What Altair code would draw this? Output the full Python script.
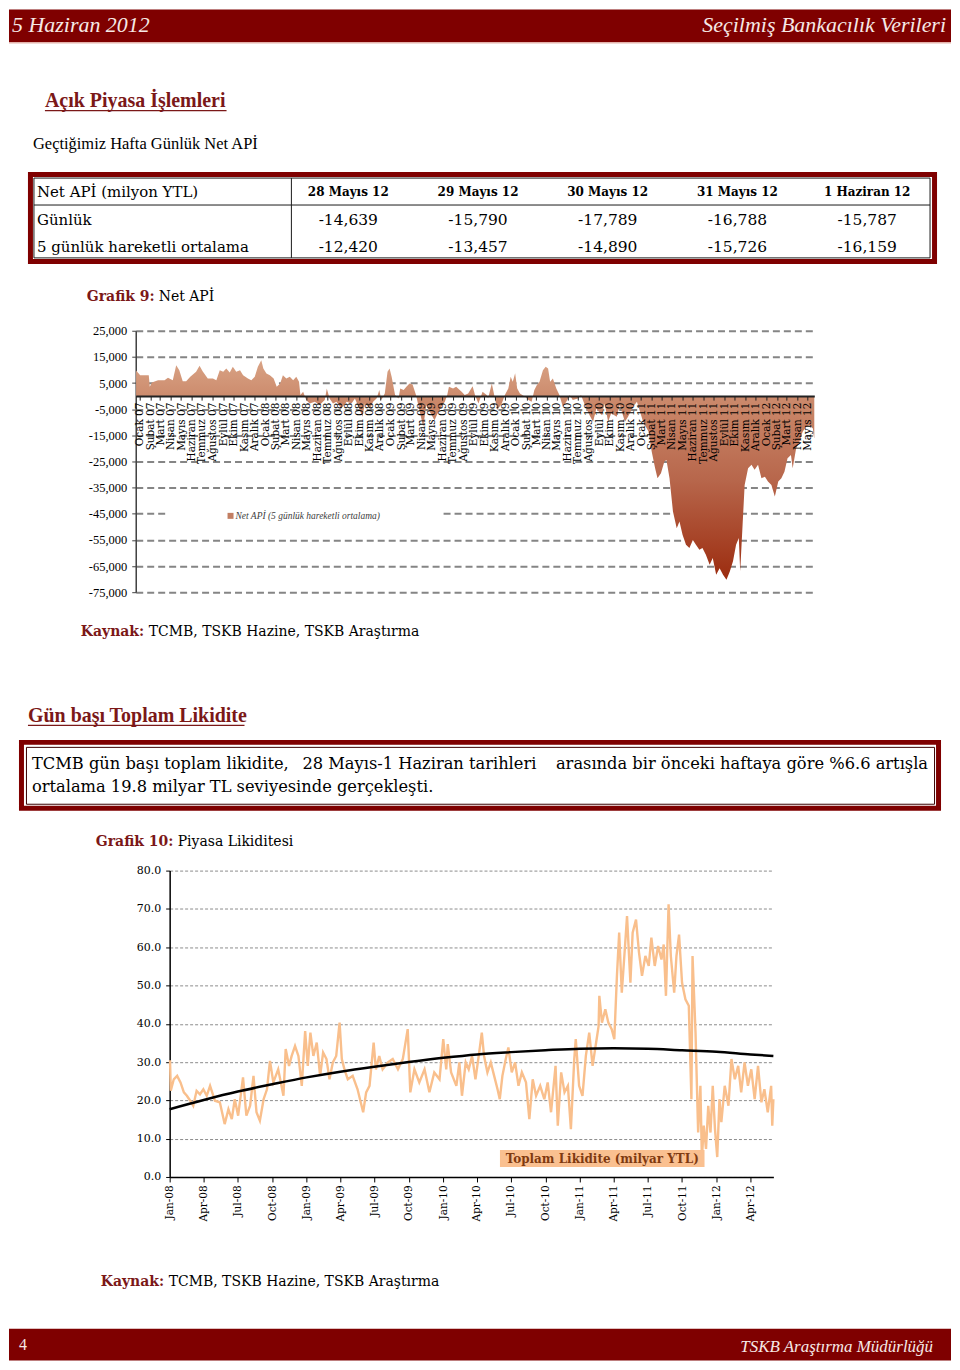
import altair as alt
import pandas as pd

# ---------------- data ----------------
months_tr = ["Ocak", "Şubat", "Mart", "Nisan", "Mayıs", "Haziran", "Temmuz",
             "Ağustos", "Eylül", "Ekim", "Kasım", "Aralık"]

table_cols = ["28 Mayıs 12", "29 Mayıs 12", "30 Mayıs 12", "31 Mayıs 12", "1 Haziran 12"]
table_rows = ["Günlük", "5 günlük hareketli ortalama"]
gunluk = [-14639, -15790, -17789, -16788, -15787]
ortalama = [-12420, -13457, -14890, -15726, -16159]

net_dates = [
    "2007-01-02", "2007-01-14", "2007-02-08", "2007-02-11", "2007-02-17", "2007-03-07", "2007-03-26",
    "2007-04-05", "2007-04-19", "2007-04-29", "2007-05-08", "2007-05-18", "2007-05-28", "2007-06-09",
    "2007-06-26", "2007-07-06", "2007-07-15", "2007-07-30", "2007-08-14", "2007-08-24", "2007-09-03",
    "2007-09-13", "2007-09-22", "2007-10-02", "2007-10-11", "2007-10-21", "2007-11-01", "2007-11-10",
    "2007-11-24", "2007-12-04", "2007-12-14", "2007-12-23", "2008-01-02", "2008-01-08", "2008-01-17",
    "2008-01-27", "2008-02-07", "2008-02-16", "2008-02-26", "2008-03-05", "2008-03-15", "2008-03-25",
    "2008-04-04", "2008-04-13", "2008-04-21", "2008-04-25", "2008-05-03", "2008-05-12", "2008-05-22",
    "2008-06-06", "2008-06-20", "2008-07-05", "2008-07-11", "2008-07-19", "2008-07-29", "2008-08-08",
    "2008-08-22", "2008-09-07", "2008-09-21", "2008-10-01", "2008-10-15", "2008-10-23", "2008-10-30",
    "2008-11-14", "2008-11-23", "2008-12-03", "2008-12-11", "2008-12-17", "2008-12-27", "2009-01-04",
    "2009-01-10", "2009-01-16", "2009-01-26", "2009-02-05", "2009-02-10", "2009-02-20", "2009-02-28",
    "2009-03-09", "2009-03-18", "2009-03-28", "2009-04-08", "2009-04-18", "2009-04-27", "2009-05-07",
    "2009-05-21", "2009-06-01", "2009-06-10", "2009-06-20", "2009-06-27", "2009-07-02", "2009-07-14",
    "2009-07-23", "2009-08-08", "2009-08-17", "2009-08-27", "2009-09-09", "2009-09-16", "2009-09-26",
    "2009-10-08", "2009-10-20", "2009-10-24", "2009-11-04", "2009-11-11", "2009-11-20", "2009-12-03",
    "2009-12-12", "2009-12-22", "2009-12-29", "2010-01-04", "2010-01-11", "2010-01-17", "2010-01-25",
    "2010-02-10", "2010-02-19", "2010-02-28", "2010-03-08", "2010-03-15", "2010-03-23", "2010-04-02",
    "2010-04-10", "2010-04-17", "2010-04-23", "2010-05-01", "2010-05-11", "2010-05-20", "2010-05-30",
    "2010-06-09", "2010-06-19", "2010-06-28", "2010-07-13", "2010-07-22", "2010-08-02", "2010-08-16",
    "2010-08-26", "2010-09-05", "2010-09-20", "2010-09-29", "2010-10-09", "2010-10-18", "2010-11-03",
    "2010-11-12", "2010-11-27", "2010-12-06", "2010-12-21", "2011-01-01", "2011-01-10", "2011-01-19",
    "2011-02-04", "2011-02-13", "2011-02-23", "2011-03-02", "2011-03-12", "2011-03-22", "2011-03-28",
    "2011-04-06", "2011-04-16", "2011-04-27", "2011-05-05", "2011-05-14", "2011-05-24", "2011-06-03",
    "2011-06-13", "2011-06-22", "2011-07-02", "2011-07-11", "2011-07-21", "2011-08-01", "2011-08-10",
    "2011-08-20", "2011-08-30", "2011-09-09", "2011-09-19", "2011-09-29", "2011-10-08", "2011-10-17",
    "2011-10-25", "2011-10-29", "2011-11-05", "2011-11-11", "2011-11-21", "2011-12-01", "2011-12-10",
    "2011-12-20", "2011-12-30", "2012-01-09", "2012-01-18", "2012-01-28", "2012-02-07", "2012-02-17",
    "2012-02-26", "2012-03-06", "2012-03-15", "2012-03-25", "2012-03-30", "2012-04-09", "2012-04-19",
    "2012-04-28", "2012-05-08", "2012-05-18", "2012-05-28", "2012-05-29", "2012-05-30", "2012-05-31",
    "2012-06-01"]
net_values = [
    9800, 8000, 8000, 3600, 5200, 6100, 6100,
    7000, 6100, 11800, 9900, 5700, 5700, 7400,
    9300, 11600, 9500, 6700, 6700, 6100, 9900,
    9300, 10600, 9000, 11200, 9300, 9900, 8000,
    6700, 6100, 7400, 11200, 13700, 10600, 8650,
    8000, 6700, 3600, 4800, 8000, 6700, 7400,
    6100, 7400, 5500, 400, 1650, -1500, -2800,
    -2200, -3400, -1500, 2900, -900, -2800, -2200,
    -4700, -2200, -2800, -900, -5300, -7900, -2800,
    -4700, -2200, -900, 2300, -1500, 1000, 9300,
    10600, 7400, 400, -900, 2900, 2300, 3600,
    4800, 4400, 400, -6000, -11700, -3400, -6000,
    -9200, -6000, -4100, -2200, 400, 3600, 2900,
    3600, 1700, 400, 1000, 3800, 400, -2800,
    1700, 400, -900, 4800, 400, -5300, -2800,
    400, 2900, 7400, 5500, 8700, 2900, 1000,
    -300, -1500, -2200, 2300, 4200, 5500, 9900,
    11200, 10600, 5500, 6700, 2900, 400, -4100,
    -2200, 400, -1500, -900, 400, -3400, -7300,
    -9800, -4700, -7300, -2800, -9800, -6600, -7900,
    -3400, -9800, -7900, -4100, -2200, -6000, -9800,
    -13600, -21200, -27600, -31400, -29500, -25000, -24400,
    -31400, -44100, -50500, -48000, -53000, -56900, -58100,
    -55000, -56900, -58800, -58100, -60700, -64500, -61900,
    -68300, -65800, -68300, -70200, -67000, -63200, -56900,
    -54300, -67000, -49200, -34000, -27600, -26300, -28200,
    -26300, -31400, -30800, -32700, -34000, -38400, -32700,
    -31400, -28900, -23800, -22500, -27600, -20000, -17400,
    -13600, -11700, -11100, -12420, -13457, -14890, -15726,
    -16159]

liq_dates = [
    "2008-01-02", "2008-01-04", "2008-01-12", "2008-01-21", "2008-01-30", "2008-02-08", "2008-02-16",
    "2008-02-25", "2008-03-04", "2008-03-13", "2008-03-22", "2008-03-31", "2008-04-09", "2008-04-18",
    "2008-05-01", "2008-05-14", "2008-05-27", "2008-06-06", "2008-06-15", "2008-06-23", "2008-07-02",
    "2008-07-15", "2008-07-24", "2008-08-03", "2008-08-12", "2008-08-20", "2008-08-29", "2008-09-08",
    "2008-09-17", "2008-09-25", "2008-10-04", "2008-10-17", "2008-10-31", "2008-11-06", "2008-11-15",
    "2008-11-22", "2008-12-01", "2008-12-10", "2008-12-19", "2008-12-28", "2009-01-04", "2009-01-11",
    "2009-01-19", "2009-01-28", "2009-02-06", "2009-02-14", "2009-02-23", "2009-03-03", "2009-03-12",
    "2009-03-21", "2009-03-30", "2009-04-05", "2009-04-12", "2009-04-21", "2009-05-04", "2009-05-17",
    "2009-06-01", "2009-06-09", "2009-06-18", "2009-06-29", "2009-07-05", "2009-07-14", "2009-07-23",
    "2009-08-06", "2009-08-19", "2009-09-02", "2009-09-15", "2009-09-28", "2009-10-05", "2009-10-16",
    "2009-10-29", "2009-11-12", "2009-11-25", "2009-12-08", "2009-12-22", "2010-01-01", "2010-01-09",
    "2010-01-13", "2010-01-22", "2010-02-05", "2010-02-13", "2010-02-20", "2010-03-02", "2010-03-10",
    "2010-03-19", "2010-03-28", "2010-04-07", "2010-04-14", "2010-04-20", "2010-04-29", "2010-05-08",
    "2010-05-17", "2010-05-26", "2010-06-01", "2010-06-08", "2010-06-17", "2010-06-24", "2010-07-03",
    "2010-07-12", "2010-07-21", "2010-07-30", "2010-08-10", "2010-08-19", "2010-08-28", "2010-09-06",
    "2010-09-17", "2010-09-28", "2010-10-07", "2010-10-16", "2010-10-28", "2010-11-03", "2010-11-12",
    "2010-11-21", "2010-11-30", "2010-12-08", "2010-12-17", "2010-12-21", "2010-12-30", "2011-01-08",
    "2011-01-17", "2011-01-26", "2011-02-04", "2011-02-12", "2011-02-20", "2011-02-22", "2011-03-01",
    "2011-03-10", "2011-03-18", "2011-03-27", "2011-04-03", "2011-04-10", "2011-04-16", "2011-04-23",
    "2011-05-01", "2011-05-07", "2011-05-16", "2011-05-22", "2011-05-31", "2011-06-08", "2011-06-16",
    "2011-06-25", "2011-07-04", "2011-07-11", "2011-07-20", "2011-07-29", "2011-08-07", "2011-08-13",
    "2011-08-19", "2011-08-26", "2011-09-01", "2011-09-10", "2011-09-16", "2011-09-23", "2011-10-01",
    "2011-10-10", "2011-10-19", "2011-10-26", "2011-10-29", "2011-11-06", "2011-11-13", "2011-11-19",
    "2011-11-23", "2011-11-28", "2011-12-04", "2011-12-10", "2011-12-16", "2011-12-22", "2011-12-28",
    "2012-01-03", "2012-01-09", "2012-01-14", "2012-01-23", "2012-02-02", "2012-02-10", "2012-02-19",
    "2012-02-28", "2012-03-07", "2012-03-16", "2012-03-25", "2012-04-03", "2012-04-12", "2012-04-21",
    "2012-04-30", "2012-05-08", "2012-05-17", "2012-05-26", "2012-05-29", "2012-06-01"]
liq_values = [
    30.5, 22.5, 25.5, 26.4, 24.7, 22.1, 21.2,
    19.9, 18.6, 22.5, 21.6, 22.9, 21.2, 23.8,
    19.9, 19.5, 13.8, 17.7, 15.1, 20.3, 16.0,
    26.0, 16.0, 18.6, 26.4, 16.9, 14.7, 20.3,
    22.9, 30.3, 24.7, 28.1, 21.2, 33.4, 29.0,
    31.6, 34.2, 31.6, 23.8, 38.1, 29.0, 37.7,
    31.6, 35.1, 26.4, 32.5, 30.8, 25.5, 29.9,
    31.6, 40.3, 30.8, 28.1, 25.5, 26.4, 22.9,
    16.9, 22.1, 23.8, 35.1, 28.1, 31.6, 28.1,
    29.9, 30.8, 28.1, 30.8, 38.6, 22.1, 28.1,
    24.7, 28.1, 22.1, 27.3, 25.5, 36.0, 28.1,
    34.7, 27.3, 23.8, 29.9, 21.2, 29.9, 28.1,
    31.6, 25.5, 32.5, 37.7, 31.6, 27.3, 29.9,
    26.4, 22.9, 20.3, 26.4, 30.8, 33.8, 27.3,
    29.9, 23.8, 27.3, 24.7, 15.1, 25.5, 21.2,
    23.8, 20.3, 24.7, 16.9, 29.0, 13.4, 27.3,
    22.1, 23.8, 12.5, 30.8, 36.0, 23.8, 21.2,
    31.6, 37.7, 29.0, 34.2, 39.4, 47.3, 40.3,
    43.8, 40.3, 38.6, 36.0, 52.5, 63.8, 48.1,
    59.4, 68.1, 50.7, 63.8, 67.2, 58.6, 52.5,
    57.7, 55.1, 62.5, 55.1, 60.3, 56.8, 60.7,
    47.3, 71.2, 57.7, 48.1, 57.7, 63.3, 50.7,
    46.4, 44.7, 20.3, 57.7, 37.7, 11.6, 23.8,
    4.7, 13.4, 7.3, 18.6, 11.6, 23.8, 12.5,
    5.2, 20.3, 14.3, 23.8, 18.6, 30.8, 25.5,
    29.0, 22.1, 29.9, 23.8, 28.1, 20.3, 29.0,
    19.5, 22.9, 16.9, 23.8, 13.4, 20.3]

trend_dates = ["2008-01-01", "2008-04-01", "2008-07-01", "2008-10-01", "2009-01-01", "2009-04-01",
               "2009-07-01", "2009-10-01", "2010-01-01", "2010-04-01", "2010-07-01", "2010-10-01",
               "2011-01-01", "2011-04-01", "2011-07-01", "2011-10-01", "2012-01-01", "2012-04-01",
               "2012-06-01"]
trend_values = [17.7, 20.1, 22.3, 24.2, 26.0, 27.5, 28.8, 30.0, 31.1, 32.0, 32.6, 33.1,
                33.5, 33.6, 33.5, 33.1, 32.7, 32.0, 31.6]

net_ticks = [25000, 15000, 5000, -5000, -15000, -25000, -35000, -45000, -55000, -65000, -75000]
liq_ticks = [0, 10, 20, 30, 40, 50, 60, 70, 80]

# ---------------- styles ----------------
W = 944
DARK_RED = "#7F0000"
TITLE_RED = "#7B1818"
SERIF = "DejaVu Serif"
TIMES = "Liberation Serif"
MINUS_FIX = "replace(format(datum.value, ','), '\u2212', '-')"

one = pd.DataFrame({"k": [0]})


def txt(s, x, y, size, font=SERIF, weight="normal", style="normal", color="black",
        align="left", baseline="middle"):
    return alt.Chart(one).mark_text(
        text=s, align=align, baseline=baseline, font=font, fontSize=size,
        fontWeight=weight, fontStyle=style, color=color
    ).encode(x=alt.value(x), y=alt.value(y))


def box(x1, x2, y1, y2, fill=None, stroke=None, sw=1.0):
    kw = {}
    if fill is not None:
        kw["fill"] = fill
    else:
        kw["fillOpacity"] = 0
    if stroke is not None:
        kw["stroke"] = stroke
        kw["strokeWidth"] = sw
    return alt.Chart(one).mark_rect(**kw).encode(
        x=alt.value(x1), x2=alt.value(x2), y=alt.value(y1), y2=alt.value(y2))


def hline(x1, x2, y, color, sw):
    return alt.Chart(one).mark_rule(color=color, strokeWidth=sw).encode(
        x=alt.value(x1), x2=alt.value(x2), y=alt.value(y))


def vline(x, y1, y2, color, sw):
    return alt.Chart(one).mark_rule(color=color, strokeWidth=sw).encode(
        x=alt.value(x), y=alt.value(y1), y2=alt.value(y2))


# ---------------- panel 1: header + table ----------------
xs = alt.Scale(type="point", domain=table_cols, range=[340, 860], padding=0)
ys = alt.Scale(type="point", domain=table_rows, range=[211, 238], padding=0)

tbl = pd.DataFrame({
    "row": [table_rows[0]] * len(table_cols) + [table_rows[1]] * len(table_cols),
    "col": table_cols + table_cols,
    "v": gunluk + ortalama,
})

tbl_values = alt.Chart(tbl).transform_calculate(
    label="replace(format(datum.v, ','), '\u2212', '-')"
).mark_text(font=SERIF, fontSize=15.5, color="black", baseline="middle").encode(
    x=alt.X("col:N", scale=xs, axis=None),
    y=alt.Y("row:N", scale=ys, axis=None),
    text="label:N",
)
tbl_head = alt.Chart(pd.DataFrame({"col": table_cols})).mark_text(
    font=SERIF, fontSize=12, fontWeight="bold", color="black", baseline="middle"
).encode(x=alt.X("col:N", scale=xs, axis=None), y=alt.value(183), text="col:N")
tbl_rowlab = alt.Chart(pd.DataFrame({"row": table_rows})).mark_text(
    font=SERIF, fontSize=15, color="black", align="left", baseline="middle"
).encode(x=alt.value(28), y=alt.Y("row:N", scale=ys, axis=None), text="row:N")

p1 = alt.layer(
    box(0, W, 0, 33, fill=DARK_RED),
    hline(0, W, 33.5, "#E3B3AC", 1.5),
    txt("5 Haziran 2012", 3, 16, 22, font=TIMES, style="italic", color="#F6E9E6"),
    txt("Seçilmiş Bankacılık Verileri", 939, 16, 22, font=TIMES, style="italic",
        color="#F6E9E6", align="right"),
    txt("Açık Piyasa İşlemleri", 36, 92, 20, font=TIMES, weight="bold", color=TITLE_RED),
    hline(36, 218, 101.5, TITLE_RED, 1.3),
    txt("Geçtiğimiz Hafta Günlük Net APİ", 24, 135, 16.5, font=TIMES),
    box(21.5, 927.5, 165.5, 252.5, stroke=DARK_RED, sw=5),
    box(25, 923, 169, 249, stroke="#1a1a1a", sw=1),
    hline(25, 923, 196, "#1a1a1a", 1),
    vline(283, 169, 249, "#1a1a1a", 1),
    txt("Net APİ (milyon YTL)", 28, 183, 15),
    tbl_head, tbl_values, tbl_rowlab,
    txt("Grafik 9:", 78, 288, 14, weight="bold", color=TITLE_RED),
    txt("Net APİ", 150, 288, 14),
).properties(width=W, height=302)

# ---------------- panel 2: Net API chart + text box ----------------
net_df = pd.DataFrame({"date": pd.to_datetime(net_dates), "value": net_values})

net_grad = alt.Gradient(
    gradient="linear",
    stops=[alt.GradientStop(color="#D9A385", offset=0),
           alt.GradientStop(color="#CB896B", offset=0.18),
           alt.GradientStop(color="#B7664B", offset=0.55),
           alt.GradientStop(color="#9C2C0F", offset=1)],
    x1=0, x2=0, y1=0, y2=1)

net_x_vals = [alt.DateTime(year=yy, month=mm, date=13)
              for yy in range(2007, 2013) for mm in range(1, 13) if (yy, mm) <= (2012, 5)]
net_label_expr = ("[" + ",".join("'" + m + "'" for m in months_tr) +
                  "][month(datum.value)] + ' ' + timeFormat(datum.value, '%y')")

net_area = alt.Chart(net_df).mark_area(color=net_grad).encode(
    x=alt.X("date:T",
            scale=alt.Scale(domain=[alt.DateTime(year=2007, month=1, date=1),
                                    alt.DateTime(year=2012, month=6, date=1)],
                            range=[127, 807]),
            axis=alt.Axis(values=net_x_vals, orient="bottom", offset=-424.5, title=None,
                          grid=False, domainColor="#222222", domainWidth=2,
                          tickColor="#222222", tickSize=4, labelAngle=270,
                          labelAlign="right", labelBaseline="middle", labelPadding=2,
                          labelFont=SERIF, labelFontSize=10.5, labelColor="black",
                          labelOverlap=False, labelFlush=False,
                          labelExpr=net_label_expr, zindex=1)),
    y=alt.Y("value:Q",
            scale=alt.Scale(domain=[-75000, 25000], range=[282, 20], nice=False, zero=False),
            axis=alt.Axis(values=net_ticks, orient="left", offset=-127, title=None,
                          grid=True, gridColor="#858585", gridDash=[7, 4], gridWidth=2,
                          domainColor="#404040", domainWidth=1.5, tickColor="#404040",
                          tickSize=4, labelFont=TIMES, labelFontSize=12.5,
                          labelColor="black", labelPadding=5, labelExpr=MINUS_FIX)),
    y2=alt.datum(0),
)

p2 = alt.layer(
    net_area,
    box(160, 432, 196, 214, fill="white"),
    box(219, 225, 202.5, 208.5, fill="#C27E62"),
    txt("Net APİ (5 günlük  hareketli  ortalama)", 227, 205.5, 9.5, font=TIMES,
        style="italic", color="#404040"),
    txt("Kaynak:", 72, 322, 14, weight="bold", color=TITLE_RED),
    txt("TCMB, TSKB Hazine, TSKB Araştırma", 140, 322, 14),
    txt("Gün başı Toplam Likidite", 19, 406, 20, font=TIMES, weight="bold", color=TITLE_RED),
    hline(19, 236, 415.5, TITLE_RED, 1.3),
    box(12.5, 931.5, 432.5, 498.5, stroke=DARK_RED, sw=5),
    box(17.5, 927.5, 437.5, 494.5, stroke="#3a0000", sw=1),
    txt("TCMB gün başı toplam likidite,", 23, 454, 16.3),
    txt("28 Mayıs-1 Haziran tarihleri", 294, 454, 16.3),
    txt("arasında bir önceki haftaya göre %6.6 artışla", 921, 454, 16.3, align="right"),
    txt("ortalama 19.8 milyar TL seviyesinde gerçekleşti.", 23, 477, 16.3),
).properties(width=W, height=510)

# ---------------- panel 3: liquidity chart + footer ----------------
liq_df = pd.DataFrame({"date": pd.to_datetime(liq_dates), "value": liq_values})
trend_df = pd.DataFrame({"date": pd.to_datetime(trend_dates), "value": trend_values})

liq_x_vals = [alt.DateTime(year=yy, month=mm, date=1)
              for yy in range(2008, 2013) for mm in (1, 4, 7, 10) if (yy, mm) <= (2012, 4)]

liq_x = alt.X("date:T",
              scale=alt.Scale(domain=[alt.DateTime(year=2008, month=1, date=1),
                                      alt.DateTime(year=2012, month=6, date=1)],
                              range=[161, 766]),
              axis=alt.Axis(values=liq_x_vals, format="%b-%y", orient="bottom", offset=-184,
                            title=None, grid=False, domainColor="black", domainWidth=1.5,
                            tickColor="black", tickSize=5, labelAngle=270, labelAlign="right",
                            labelBaseline="middle", labelPadding=3, labelFont=SERIF,
                            labelFontSize=10.5, labelColor="black", labelOverlap=False,
                            labelFlush=False))
liq_y = alt.Y("value:Q",
              scale=alt.Scale(domain=[0, 80], range=[358, 51], nice=False),
              axis=alt.Axis(values=liq_ticks, format=".1f", orient="left", offset=-161,
                            title=None, grid=True, gridColor="#8c8c8c", gridDash=[3, 2],
                            gridWidth=1, domainColor="black", domainWidth=1.5,
                            tickColor="black", tickSize=4, labelFont=SERIF, labelFontSize=11,
                            labelColor="black", labelPadding=5))

liq_line = alt.Chart(liq_df).mark_line(color="#F9BF8C", strokeWidth=2.4).encode(x=liq_x, y=liq_y)
trend_line = alt.Chart(trend_df).mark_line(color="black", strokeWidth=2.5,
                                           interpolate="monotone").encode(x=liq_x, y=liq_y)

p3 = alt.layer(
    liq_line,
    trend_line,
    txt("Grafik 10:", 87, 22, 14, weight="bold", color=TITLE_RED),
    txt("Piyasa Likiditesi", 169, 22, 14),
    box(492, 697, 331, 348, fill="#FAC090"),
    txt("Toplam Likidite (milyar YTL)", 594.5, 340, 12, weight="bold", color="#7F3A10",
        align="center"),
    txt("Kaynak:", 92, 463, 14, weight="bold", color=TITLE_RED),
    txt("TCMB, TSKB Hazine, TSKB Araştırma", 160, 463, 14),
    box(0, W, 510, 542, fill=DARK_RED),
    txt("4", 10, 526, 16, font=TIMES, color="#F6E9E6"),
    txt("TSKB Araştırma Müdürlüğü", 926, 528, 17, font=TIMES, style="italic",
        color="#F6E9E6", align="right"),
).properties(width=W, height=542)

chart = alt.vconcat(p1, p2, p3, spacing=0, bounds="flush", padding=0,
                    background="white").configure_view(stroke=None)

chart.save("out.html", embed_options={"renderer": "svg", "actions": False})
